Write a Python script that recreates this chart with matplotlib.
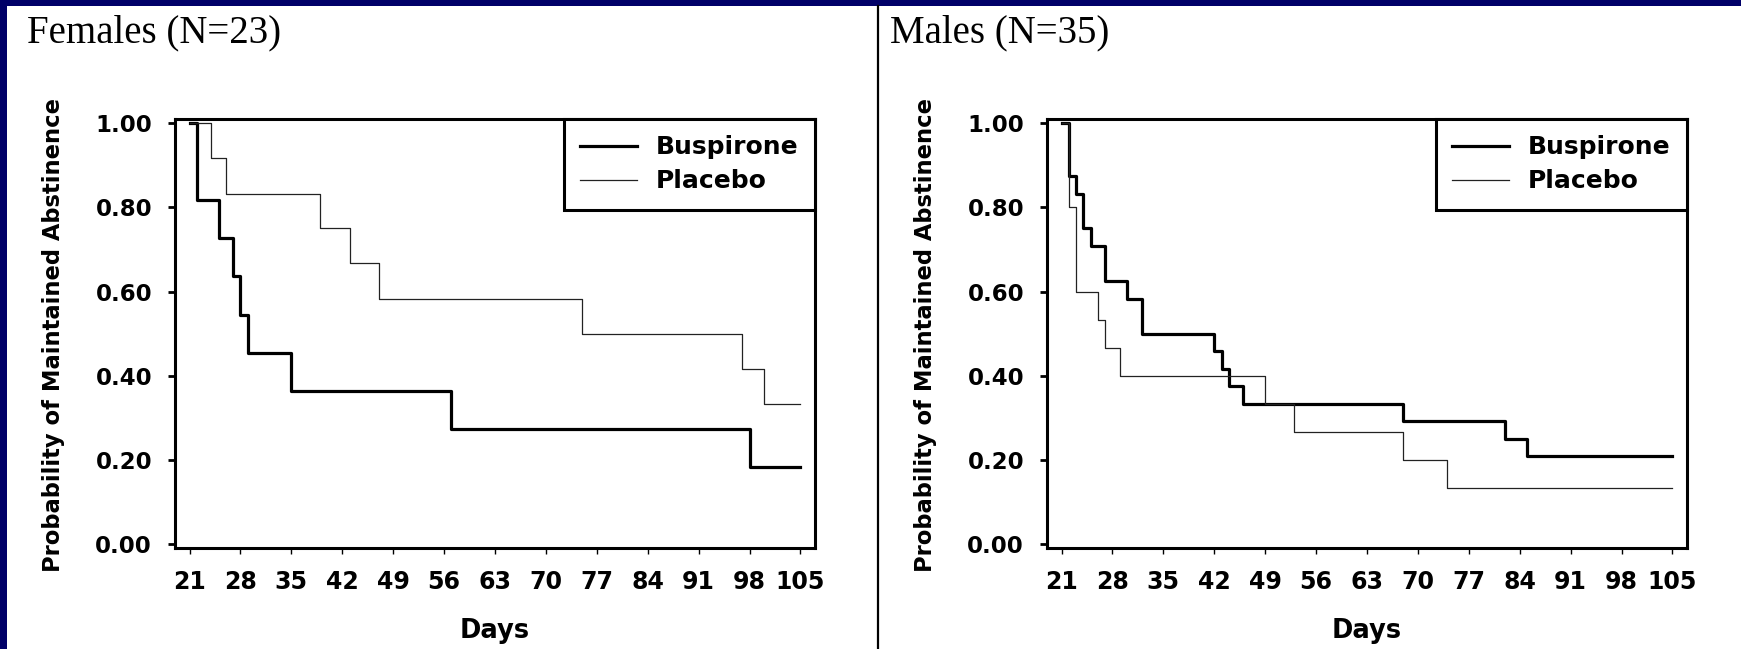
import numpy as np
import matplotlib
matplotlib.use('Agg')
import matplotlib.pyplot as plt
from matplotlib.lines import Line2D
from matplotlib.patches import Rectangle

plt.rcParams['font.family'] = 'DejaVu Sans'
plt.rcParams['font.weight'] = 'bold'

# Kaplan-Meier style steps
fem_busp_days = [21, 22, 25, 27, 28, 29, 35, 57, 98, 105]
fem_busp_surv = [1.0, 0.818, 0.727, 0.636, 0.545, 0.455, 0.364, 0.273, 0.182, 0.182]
fem_plac_days = [21, 24, 26, 39, 43, 47, 75, 97, 100, 105]
fem_plac_surv = [1.0, 0.917, 0.833, 0.75, 0.667, 0.583, 0.5, 0.417, 0.333, 0.333]

male_busp_days = [21, 22, 23, 24, 25, 27, 30, 32, 42, 43, 44, 46, 68, 82, 85, 105]
male_busp_surv = [1.0, 0.875, 0.833, 0.75, 0.708, 0.625, 0.583, 0.5, 0.458, 0.417,
                  0.375, 0.333, 0.292, 0.25, 0.208, 0.208]
male_plac_days = [21, 22, 23, 26, 27, 29, 49, 53, 68, 74, 105]
male_plac_surv = [1.0, 0.8, 0.6, 0.533, 0.467, 0.4, 0.333, 0.267, 0.2, 0.133, 0.133]

panel_titles = ['Females (N=23)', 'Males (N=35)']
x_ticks = list(range(21, 106, 7))
y_ticks = [0.0, 0.2, 0.4, 0.6, 0.8, 1.0]
series_names = ['Buspirone', 'Placebo']

W, H = 1741, 649
fig = plt.figure(figsize=(W / 100, H / 100), dpi=100)
fig.patch.set_facecolor('white')

navy = '#000068'
fig.add_artist(Rectangle((0, 1 - 6 / H), 1, 6 / H, transform=fig.transFigure,
                         facecolor=navy, edgecolor='none'))
fig.add_artist(Rectangle((0, 0), 7 / W, 1, transform=fig.transFigure,
                         facecolor=navy, edgecolor='none'))
fig.add_artist(Line2D([878 / W, 878 / W], [0, 1 - 6 / H], transform=fig.transFigure,
                      color='black', lw=1.6))

panels = [
    (175, panel_titles[0], 27, fem_busp_days, fem_busp_surv, fem_plac_days, fem_plac_surv),
    (1047, panel_titles[1], 890, male_busp_days, male_busp_surv, male_plac_days, male_plac_surv),
]

for left_px, title, title_px, bd, bs, pd_, ps in panels:
    ax = fig.add_axes([left_px / W, 1 - 548 / H, 640 / W, 429 / H])
    ax.step(bd, bs, where='post', color='black', lw=2.3, label=series_names[0])
    ax.step(pd_, ps, where='post', color='#222222', lw=0.9, label=series_names[1])

    ax.set_xlim(19, 107)
    ax.set_ylim(-0.0095, 1.0102)
    ax.set_xticks(x_ticks)
    ax.set_yticks(y_ticks)
    ax.set_yticklabels(['%.2f' % v for v in y_ticks])
    for s in ax.spines.values():
        s.set_linewidth(2.2)
    ax.tick_params(axis='y', direction='out', length=5, width=2, pad=11.5, labelsize=16.5)
    ax.tick_params(axis='x', direction='out', length=4, width=1, pad=12, labelsize=17)

    ax.set_xlabel('Days', fontsize=18.5, fontweight='bold')
    ax.xaxis.set_label_coords(0.5, -0.1935)
    ax.xaxis.label.set_va('center')
    ax.set_ylabel('Probability of Maintained Abstinence', fontsize=16.3, fontweight='bold')
    ax.yaxis.set_label_coords(-0.1906, 0.497)
    ax.yaxis.label.set_va('center')

    leg = ax.legend(loc='upper right', bbox_to_anchor=(1, 1), borderaxespad=0,
                    fontsize=18, handlelength=2.3, handletextpad=0.75,
                    borderpad=0.65, labelspacing=0.4, fancybox=False, framealpha=1)
    leg.get_frame().set_edgecolor('black')
    leg.get_frame().set_linewidth(2.2)
    for t in leg.get_texts():
        t.set_fontweight('bold')

    fig.text(title_px / W, 1 - 42 / H, title, family='Liberation Serif',
             fontweight='normal', fontsize=28, va='baseline', ha='left')

fig.savefig('out.png', dpi=100, facecolor='white')
